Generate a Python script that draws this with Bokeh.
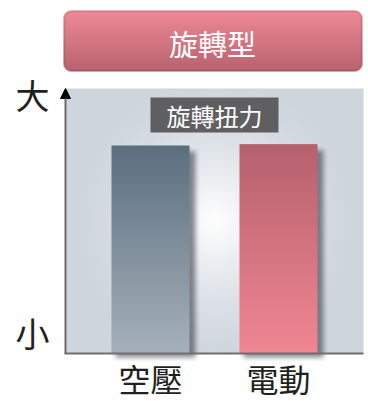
import numpy as np
from bokeh.plotting import figure
from bokeh.models import Range1d, FixedTicker, Arrow, NormalHead
from bokeh.core.properties import value
from bokeh.embed import file_html
from bokeh.resources import INLINE

# ---------------- data ----------------
categories = ["空壓", "電動"]
torque = [0.785, 0.79]
bar_top_colors = ["#5c6f7f", "#b6616e"]
bar_bottom_colors = ["#a6b1bb", "#f08793"]
y_tick_values = [0.079, 0.977]
y_tick_labels = ["小", "大"]
header_text = "旋轉型"
badge_text = "旋轉扭力"

# ---------------- layout (canvas pixels) ----------------
W, H = 368, 401
PX_X = 128.0          # pixels per category step
PX_Y = 265.0          # pixels per unit of value
X0_PX = 150.0         # pixel position of first category
Y0_PX = 353.0         # pixel position of value 0
FONT = "Noto Sans CJK TC"


def X(px):
    return 1 + (px - X0_PX) / PX_X


def Y(py):
    return (Y0_PX - py) / PX_Y


def hex2rgb(h):
    h = h.lstrip("#")
    return np.array([int(h[i:i + 2], 16) for i in (0, 2, 4)], dtype=float)


def to_img(rgba):
    rgba = np.clip(rgba, 0, 255).astype(np.uint8)[::-1]
    rgba = np.ascontiguousarray(rgba)
    return rgba.view(np.uint32).reshape(rgba.shape[0], rgba.shape[1])


def smooth(t):
    t = np.clip(t, 0, 1)
    return t * t * (3 - 2 * t)


p = figure(width=W, height=H, output_backend="svg", toolbar_location=None,
           x_range=Range1d(X(0), X(W)), y_range=Range1d(Y(H), Y(0)),
           min_border_left=0, min_border_right=0,
           min_border_top=0, min_border_bottom=0)
p.grid.visible = False
p.outline_line_color = None
p.background_fill_color = "white"
p.border_fill_color = "white"

# ---- plot area background (radial gradient) ----
px0, px1, py0, py1 = 65, 363, 88, 353
bw, bh = px1 - px0, py1 - py0
yy, xx = np.mgrid[0:bh, 0:bw] + 0.5
d = np.sqrt((xx - bw / 2) ** 2 + (yy - bh / 2) ** 2) / 150.0
k = (1 - np.clip(d, 0, 1)) ** 1.5
edge = hex2rgb("#ced5dd")
bg = np.zeros((bh, bw, 4))
for c in range(3):
    bg[..., c] = edge[c] + (255 - edge[c]) * k
bg[..., 3] = 255
p.image_rgba(image=[to_img(bg)], x=X(px0), y=Y(py1), dw=bw / PX_X, dh=bh / PX_Y)

# ---- bars with shadows and gradients ----
bar_w = 78 / PX_X
for i, (cat, v) in enumerate(zip(categories, torque)):
    xc = i + 1
    bar_px_w = bar_w * PX_X
    bar_px_h = v * PX_Y
    # soft shadow (image rows: 0 = bar top)
    sw, sh = int(bar_px_w + 22), int(bar_px_h + 14)
    syy, sxx = np.mgrid[0:sh, 0:sw] + 0.5
    kk = 5.0
    L, R = 4.0, bar_px_w + 6
    T, B = 6.0, bar_px_h + 4
    ax = smooth((sxx - (L - kk)) / (2 * kk)) * smooth(((R + kk) - sxx) / (2 * kk))
    ay = smooth((syy - (T - kk)) / (2 * kk)) * smooth(((B + kk) - syy) / (2 * kk))
    sh_img = np.zeros((sh, sw, 4))
    sh_img[..., 0] = 55
    sh_img[..., 1] = 60
    sh_img[..., 2] = 68
    sh_img[..., 3] = 150 * ax * ay
    p.image_rgba(image=[to_img(sh_img)], x=xc - bar_w / 2, y=v - sh / PX_Y,
                 dw=sw / PX_X, dh=sh / PX_Y)
    # bar gradient
    gh = int(round(bar_px_h))
    gw = int(round(bar_px_w))
    t = (np.arange(gh) + 0.5) / gh
    top, bot = hex2rgb(bar_top_colors[i]), hex2rgb(bar_bottom_colors[i])
    g = np.zeros((gh, gw, 4))
    for c in range(3):
        g[..., c] = (top[c] + (bot[c] - top[c]) * t)[:, None]
    g[..., 3] = 255
    p.image_rgba(image=[to_img(g)], x=xc - bar_w / 2, y=0, dw=bar_w, dh=v)

# ---- x axis line ----
p.segment(x0=[X(64)], x1=[X(363)], y0=[0], y1=[0], line_color="#6e6e6e", line_width=2)

# ---- header box ----
hx0, hx1, hy0, hy1 = 63, 362, 10, 71
hw, hh = hx1 - hx0, hy1 - hy0
yy, xx = np.mgrid[0:hh, 0:hw] + 0.5
r = 8.0
qx = np.abs(xx - hw / 2) - (hw / 2 - r)
qy = np.abs(yy - hh / 2) - (hh / 2 - r)
sd = np.sqrt(np.maximum(qx, 0) ** 2 + np.maximum(qy, 0) ** 2) + np.minimum(np.maximum(qx, qy), 0) - r
alpha = np.clip(0.5 - sd, 0, 1)
tt = yy / hh
htop, hbot = hex2rgb("#f08a97"), hex2rgb("#b8636f")
hd = np.zeros((hh, hw, 4))
border = np.clip(sd + 2.0, 0, 1)
for c in range(3):
    base = htop[c] + (hbot[c] - htop[c]) * tt
    hd[..., c] = base * (1 - border) + base * 0.86 * border
hd[..., 3] = 255 * alpha
p.image_rgba(image=[to_img(hd)], x=X(hx0), y=Y(hy1), dw=hw / PX_X, dh=hh / PX_Y)
p.text(x=[X(212)], y=[Y(42)], text=[header_text], text_color="white",
       text_font=value(FONT), text_font_size="29px",
       text_align="center", text_baseline="middle")

# ---- badge ----
p.quad(left=[X(150)], right=[X(278)], top=[Y(97)], bottom=[Y(132)],
       fill_color="#5f5f62", line_color=None)
p.text(x=[X(214)], y=[Y(114.5)], text=[badge_text], text_color="white",
       text_font=value(FONT), text_font_size="24px",
       text_align="center", text_baseline="middle")

# ---- y axis arrow ----
ax_x = X(65)
p.add_layout(Arrow(x_start=ax_x, y_start=0, x_end=ax_x, y_end=1.0,
                   line_color="#6a6a6a", line_width=2,
                   end=NormalHead(size=10, fill_color="black", line_color="black")))

# ---- axes (fixed inside the canvas) ----
xa = p.xaxis[0]
xa.fixed_location = 0
xa.ticker = FixedTicker(ticks=[i + 1 for i in range(len(categories))])
xa.major_label_overrides = {i + 1: c for i, c in enumerate(categories)}
xa.axis_line_color = None
xa.major_tick_line_color = None
xa.minor_tick_line_color = None
xa.major_label_text_font = FONT
xa.major_label_text_font_size = "32px"
xa.major_label_text_color = "#231f20"
xa.major_label_standoff = -5

ya = p.yaxis[0]
ya.fixed_location = X(65)
ya.ticker = FixedTicker(ticks=y_tick_values)
ya.major_label_overrides = {v: s for v, s in zip(y_tick_values, y_tick_labels)}
ya.axis_line_color = None
ya.major_tick_line_color = None
ya.minor_tick_line_color = None
ya.major_label_text_font = FONT
ya.major_label_text_font_size = "34px"
ya.major_label_text_color = "#231f20"
ya.major_label_standoff = 10

open("out.html", "w").write(file_html(p, INLINE))
